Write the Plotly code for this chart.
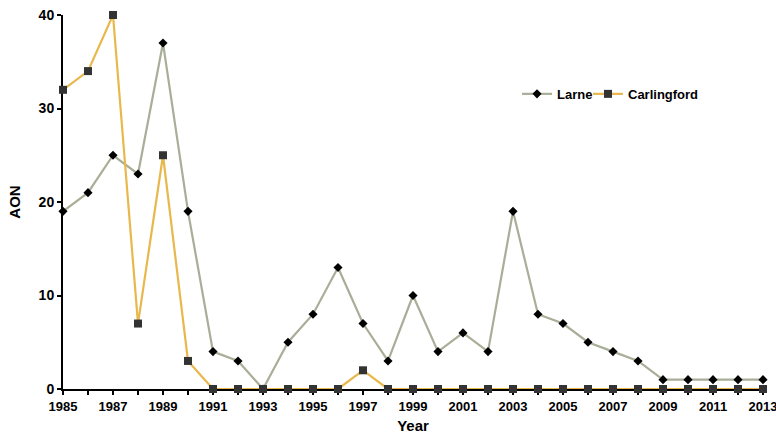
import plotly.graph_objects as go

years = list(range(1985, 2014))
larne = [19, 21, 25, 23, 37, 19, 4, 3, 0, 5, 8, 13, 7, 3, 10, 4, 6, 4, 19, 8, 7, 5, 4, 3, 1, 1, 1, 1, 1]
carlingford = [32, 34, 40, 7, 25, 3, 0, 0, 0, 0, 0, 0, 2, 0, 0, 0, 0, 0, 0, 0, 0, 0, 0, 0, 0, 0, 0, 0, 0]
x_tick_vals = list(range(1985, 2014))
x_tick_text = [str(v) if (v - 1985) % 2 == 0 else "" for v in x_tick_vals]
y_ticks = [0, 10, 20, 30, 40]

font = "Liberation Sans, Arial, sans-serif"

fig = go.Figure()
fig.add_trace(go.Scatter(
    x=years, y=larne, name="Larne", mode="lines+markers",
    line=dict(color="#A8AE98", width=2.2),
    marker=dict(symbol="diamond", size=7, color="#000000"),
    cliponaxis=False, legend="legend",
))
fig.add_trace(go.Scatter(
    x=years, y=carlingford, name="Carlingford", mode="lines+markers",
    line=dict(color="#E9B84C", width=2.2),
    marker=dict(symbol="square", size=8, color="#333333"),
    cliponaxis=False, legend="legend2",
))

legend_common = dict(
    orientation="h", y=0.789, xanchor="left", yanchor="middle",
    font=dict(family=font, size=13, color="#000000", weight="bold"),
    bgcolor="rgba(0,0,0,0)", itemwidth=30, borderwidth=0,
)

fig.update_layout(
    width=776, height=435,
    margin=dict(l=63, r=13, t=15, b=46),
    paper_bgcolor="white", plot_bgcolor="white",
    font=dict(family=font, size=13, color="#000000"),
    showlegend=True,
    legend=dict(x=0.6486, **legend_common),
    legend2=dict(x=0.75, **legend_common),
)
fig.update_xaxes(
    range=[1985, 2013], tickmode="array", tickvals=x_tick_vals,
    ticktext=x_tick_text,
    showgrid=False, zeroline=False,
    showline=True, linecolor="#000000", linewidth=2,
    ticks="outside", ticklen=4, tickcolor="#000000", tickwidth=1.5,
    tickfont=dict(family=font, size=13, weight="bold"),
    ticklabeloverflow="allow",
    title=dict(text="Year", font=dict(family=font, size=15, weight="bold"), standoff=8),
    layer="below traces", automargin=False,
)
fig.update_yaxes(
    range=[0, 40], tickmode="array", tickvals=y_ticks,
    showgrid=False, zeroline=False,
    showline=True, linecolor="#000000", linewidth=2,
    ticks="outside", ticklen=4, tickcolor="#000000", tickwidth=1.5,
    tickfont=dict(family=font, size=14, weight="bold"),
    title=dict(text="AON", font=dict(family=font, size=15, weight="bold"), standoff=14),
    layer="below traces", automargin=False,
)

fig.write_html(
    "out.html",
    config={"displayModeBar": False},
    post_script="document.body.style.margin='0';document.body.style.overflow='hidden';",
)
